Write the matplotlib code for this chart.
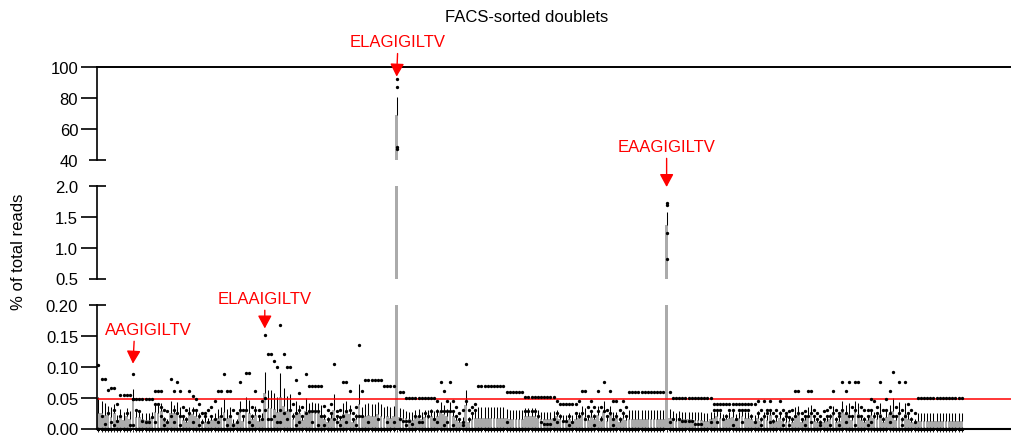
import numpy as np
import matplotlib.pyplot as plt
from matplotlib.transforms import blended_transform_factory

plt.rcParams['font.family'] = ['Liberation Sans', 'DejaVu Sans']

# four replicates per peptide, in units of 0.001 % of total reads
rep_a = [103, 80, 80, 63, 65, 65, 40, 55, 55, 55,   # 0
         55, 89, 47, 47, 47, 47, 47, 47, 60, 60,   # 10
         60, 30, 28, 80, 60, 75, 60, 35, 30, 60,   # 20
         52, 48, 40, 25, 25, 30, 35, 45, 60, 60,   # 30
         89, 60, 60, 30, 25, 75, 30, 90, 90, 35,   # 40
         60, 30, 45, 152, 120, 120, 109, 99, 167, 120,  # 50
         99, 99, 40, 79, 58, 35, 89, 69, 69, 69,   # 60
         69, 69, 36, 30, 40, 105, 29, 30, 75, 75,  # 70
         61, 25, 35, 136, 61, 79, 79, 79, 79, 79,  # 80
         79, 69, 69, 69, 69, 92300, 59, 59, 50, 50,  # 90
         50, 50, 50, 50, 50, 50, 50, 50, 45, 75,   # 100
         61, 45, 75, 45, 35, 25, 30, 105, 30, 35,  # 110
         40, 69, 69, 69, 69, 69, 69, 69, 69, 69,   # 120
         59, 59, 59, 59, 59, 59, 51, 51, 51, 51,   # 130
         51, 51, 51, 51, 51, 51, 45, 39, 39, 39,   # 140
         39, 39, 39, 45, 61, 61, 35, 45, 35, 61,   # 150
         35, 76, 30, 61, 45, 45, 30, 45, 35, 59,   # 160
         59, 59, 59, 59, 59, 59, 59, 59, 59, 59,   # 170
         59, 1728, 59, 50, 50, 50, 50, 50, 50, 50,  # 180
         50, 50, 50, 50, 50, 50, 39, 39, 39, 39,   # 190
         39, 39, 39, 39, 39, 39, 39, 39, 39, 39,   # 200
         45, 30, 45, 30, 45, 25, 30, 45, 30, 25,   # 210
         28, 30, 61, 61, 25, 28, 61, 61, 30, 25,   # 220
         20, 28, 30, 35, 61, 30, 25, 75, 61, 75,   # 230
         35, 75, 75, 35, 30, 30, 47, 45, 35, 75,   # 240
         30, 47, 61, 91, 35, 75, 30, 75, 39, 30,   # 250
         25, 50, 50, 50, 50, 50, 50, 50, 50, 50,   # 260
         50, 50, 50, 50, 50, 50]                   # 270

rep_b = [0, 20, 8, 25, 10, 30, 12, 20, 0, 25,      # 0
         5, 47, 30, 28, 12, 10, 10, 18, 40, 40,    # 10
         35, 15, 10, 20, 30, 25, 20, 20, 15, 25,   # 20
         30, 30, 20, 10, 20, 10, 20, 15, 10, 20,   # 30
         15, 5, 20, 5, 10, 30, 20, 30, 10, 20,     # 40
         30, 20, 15, 50, 15, 15, 20, 10, 30, 25,   # 50
         15, 30, 20, 25, 30, 20, 25, 29, 29, 29,   # 60
         29, 20, 20, 15, 25, 15, 20, 18, 20, 29,   # 70
         30, 15, 20, 20, 20, 0, 10, 0, 0, 15,      # 80
         0, 0, 10, 0, 10, 87000, 15, 12, 12, 12,   # 90
         8, 20, 20, 10, 25, 20, 29, 15, 29, 29,    # 100
         29, 29, 29, 29, 20, 15, 10, 45, 15, 25,   # 110
         30, 0, 0, 0, 0, 0, 0, 0, 0, 0,            # 120
         10, 0, 0, 0, 0, 0, 29, 29, 29, 29,        # 130
         20, 10, 8, 8, 8, 15, 25, 20, 12, 12,      # 140
         20, 10, 25, 20, 25, 15, 20, 29, 20, 29,   # 150
         15, 29, 20, 25, 15, 20, 15, 25, 20, 0,    # 160
         0, 0, 0, 0, 0, 0, 0, 0, 0, 0,             # 170
         0, 1689, 10, 15, 0, 15, 12, 12, 12, 12,   # 180
         8, 8, 8, 0, 0, 10, 30, 30, 30, 15,        # 190
         20, 30, 30, 15, 30, 30, 30, 30, 20, 10,   # 200
         25, 15, 20, 25, 30, 12, 20, 25, 15, 20,   # 210
         18, 15, 20, 25, 15, 20, 20, 25, 20, 15,   # 220
         10, 15, 20, 20, 25, 15, 20, 30, 25, 20,   # 230
         20, 30, 20, 20, 15, 20, 30, 20, 25, 20,   # 240
         15, 30, 25, 20, 20, 25, 15, 20, 25, 15,   # 250
         10, 0, 0, 0, 0, 0, 0, 0, 0, 0,            # 260
         0, 0, 0, 0, 0, 0]                         # 270

rep_c = [0, 0, 0, 0, 0, 5, 0, 0, 0, 0,             # 0
         0, 47, 0, 0, 0, 0, 0, 0, 10, 0,           # 10
         20, 5, 0, 0, 10, 0, 5, 0, 0, 0,           # 20
         10, 0, 5, 0, 0, 0, 0, 0, 0, 0,            # 30
         0, 0, 0, 0, 0, 0, 0, 0, 0, 5,             # 40
         0, 0, 0, 30, 0, 0, 0, 0, 10, 0,           # 50
         0, 0, 0, 5, 10, 0, 0, 0, 10, 0,           # 60
         5, 0, 5, 0, 0, 0, 10, 5, 0, 10,           # 70
         0, 0, 5, 0, 0, 0, 0, 0, 0, 0,             # 80
         0, 0, 0, 0, 0, 48700, 0, 0, 5, 0,         # 90
         0, 0, 10, 0, 0, 0, 0, 0, 10, 0,           # 100
         5, 10, 0, 5, 0, 0, 5, 0, 0, 0,            # 110
         0, 0, 0, 0, 0, 0, 0, 0, 0, 0,             # 120
         0, 0, 0, 0, 0, 0, 0, 0, 0, 0,             # 130
         0, 0, 0, 0, 0, 0, 10, 0, 0, 0,            # 140
         5, 0, 0, 0, 0, 0, 0, 0, 5, 0,             # 150
         0, 0, 0, 0, 5, 0, 0, 0, 0, 0,             # 160
         0, 0, 0, 0, 0, 0, 0, 0, 0, 0,             # 170
         0, 1244, 0, 0, 0, 0, 0, 0, 0, 0,          # 180
         0, 0, 0, 0, 0, 0, 0, 10, 0, 0,            # 190
         0, 0, 5, 0, 0, 10, 0, 0, 0, 0,            # 200
         0, 5, 0, 0, 10, 0, 0, 0, 5, 0,            # 210
         5, 0, 0, 0, 0, 5, 0, 10, 0, 0,            # 220
         5, 0, 0, 5, 0, 0, 5, 0, 10, 0,            # 230
         0, 5, 0, 0, 0, 5, 10, 0, 0, 0,            # 240
         0, 0, 10, 0, 0, 0, 5, 0, 0, 0,            # 250
         0, 0, 0, 0, 0, 0, 0, 0, 0, 0,             # 260
         0, 0, 0, 0, 0, 0]                         # 270

rep_d = [0, 0, 0, 0, 0, 0, 0, 0, 0, 0,             # 0
         0, 5, 0, 0, 0, 0, 0, 0, 0, 0,             # 10
         0, 0, 0, 0, 0, 0, 0, 0, 0, 0,             # 20
         0, 0, 0, 0, 0, 0, 0, 0, 0, 0,             # 30
         0, 0, 0, 0, 0, 0, 0, 0, 0, 0,             # 40
         0, 0, 0, 0, 0, 0, 0, 0, 0, 0,             # 50
         0, 0, 0, 0, 0, 0, 0, 0, 0, 0,             # 60
         0, 0, 0, 0, 0, 0, 0, 0, 0, 0,             # 70
         0, 0, 0, 0, 0, 0, 0, 0, 0, 0,             # 80
         0, 0, 0, 0, 0, 47000, 0, 0, 0, 0,         # 90
         0, 0, 0, 0, 0, 0, 0, 0, 0, 0,             # 100
         0, 0, 0, 0, 0, 0, 0, 0, 0, 0,             # 110
         0, 0, 0, 0, 0, 0, 0, 0, 0, 0,             # 120
         0, 0, 0, 0, 0, 0, 0, 0, 0, 0,             # 130
         0, 0, 0, 0, 0, 0, 0, 0, 0, 0,             # 140
         0, 0, 0, 0, 0, 0, 0, 0, 0, 0,             # 150
         0, 0, 0, 0, 0, 0, 0, 0, 0, 0,             # 160
         0, 0, 0, 0, 0, 0, 0, 0, 0, 0,             # 170
         0, 820, 0, 0, 0, 0, 0, 0, 0, 0,           # 180
         0, 0, 0, 0, 0, 0, 0, 0, 0, 0,             # 190
         0, 0, 0, 0, 0, 0, 0, 0, 0, 0,             # 200
         0, 0, 0, 0, 0, 0, 0, 0, 0, 0,             # 210
         0, 0, 0, 0, 0, 0, 0, 0, 0, 0,             # 220
         0, 0, 0, 0, 0, 0, 0, 0, 0, 0,             # 230
         0, 0, 0, 0, 0, 0, 0, 0, 0, 0,             # 240
         0, 0, 0, 0, 0, 0, 0, 0, 0, 0,             # 250
         0, 0, 0, 0, 0, 0, 0, 0, 0, 0,             # 260
         0, 0, 0, 0, 0, 0]                         # 270

cutoff = 0.047  # % of total reads, red threshold line

reps = np.array([rep_a, rep_b, rep_c, rep_d]) / 1000.0
x = np.arange(reps.shape[1])
mean = reps.mean(axis=0)
sem = reps.std(axis=0, ddof=1) / np.sqrt(reps.shape[0])

fig = plt.figure(figsize=(10.11, 4.39), dpi=100)
left, width = 97 / 1011, 1 - 97 / 1011

# (rect bottom, rect height, ylim, ticks, label format, broken-axis caps)
panels = [
    (1 - 161 / 439, 93 / 439, (40, 100), [40, 60, 80, 100], '{:.0f}', [40]),
    (1 - 279.5 / 439, 92.5 / 439, (0.5, 2.0), [0.5, 1.0, 1.5, 2.0], '{:.1f}', [0.5, 2.0]),
    (1 - 429.5 / 439, 123.5 / 439, (0, 0.2), [0, 0.05, 0.10, 0.15, 0.20], '{:.2f}', [0.20]),
]

axes = []
for bot, h, (lo, hi), ticks, fmt, caps in panels:
    ax = fig.add_axes([left, bot, width, h])
    ax.bar(x, mean, width=0.9, color='#ababab', zorder=1)
    ax.errorbar(x, mean, yerr=[np.zeros_like(sem), sem], fmt='none',
                ecolor='k', elinewidth=0.75, capsize=0, zorder=2)
    for r in reps:
        m = (r >= lo) & (r <= hi)
        ax.plot(x[m], r[m], 'o', ms=2.4, mew=0, color='k', zorder=3, clip_on=False)
    ax.set_xlim(-0.45, 290.7)
    ax.set_ylim(lo, hi)
    ax.set_yticks(ticks)
    ax.set_yticklabels([fmt.format(t) for t in ticks])
    ax.tick_params(axis='y', length=11.5, width=1.2, labelsize=12, pad=2)
    for s in ['top', 'right']:
        ax.spines[s].set_visible(False)
    ax.spines['left'].set_linewidth(1.2)
    for t, v in zip(ax.yaxis.get_major_ticks(), ticks):
        if v in caps:
            t.tick1line.set_visible(False)
    blend = blended_transform_factory(ax.transAxes, ax.transData)
    for v in caps:
        ax.plot([-8.5 / 914, 8.5 / 914], [v, v], transform=blend, color='k',
                lw=1.2, clip_on=False, solid_capstyle='butt')
    axes.append(ax)

ax_top, ax_mid, ax_bot = axes
for ax in (ax_top, ax_mid):
    ax.spines['bottom'].set_visible(False)
    ax.set_xticks([])
ax_top.axhline(100, color='k', lw=1.4, clip_on=False)

ax_bot.spines['bottom'].set_linewidth(1.5)
ax_bot.set_xticks(x)
ax_bot.set_xticklabels([])
ax_bot.tick_params(axis='x', length=2.5, width=0.6)
ax_bot.axhline(cutoff, color='#ff0000', lw=1.1, zorder=2.5)

arrow = dict(arrowstyle='-|>,head_length=0.65,head_width=0.35', color='red',
             lw=1.0, mutation_scale=12, shrinkA=1, shrinkB=0)
ax_top.annotate('ELAGIGILTV', xy=(95, 93.8), xytext=(1, 25), textcoords='offset points',
                ha='center', va='center', color='red', fontsize=12,
                arrowprops=arrow, annotation_clip=False)
ax_mid.annotate('EAAGIGILTV', xy=(181, 1.984), xytext=(0, 29), textcoords='offset points',
                ha='center', va='center', color='red', fontsize=12,
                arrowprops=arrow, annotation_clip=False)
ax_bot.annotate('ELAAIGILTV', xy=(53, 0.162), xytext=(0, 21.5), textcoords='offset points',
                ha='center', va='center', color='red', fontsize=12,
                arrowprops=arrow, annotation_clip=False)
ax_bot.annotate('AAGIGILTV', xy=(11, 0.105), xytext=(11, 24.5), textcoords='offset points',
                ha='center', va='center', color='red', fontsize=12,
                arrowprops=dict(arrow, relpos=(0.34, 0)), annotation_clip=False)

fig.text(527 / 1011, 1 - 17 / 439, 'FACS-sorted doublets', ha='center', va='center', fontsize=12)
fig.text(19 / 1011, 1 - 252 / 439, '% of total reads', rotation=90,
         ha='center', va='center', fontsize=12)

fig.savefig('out.png', dpi=100)
